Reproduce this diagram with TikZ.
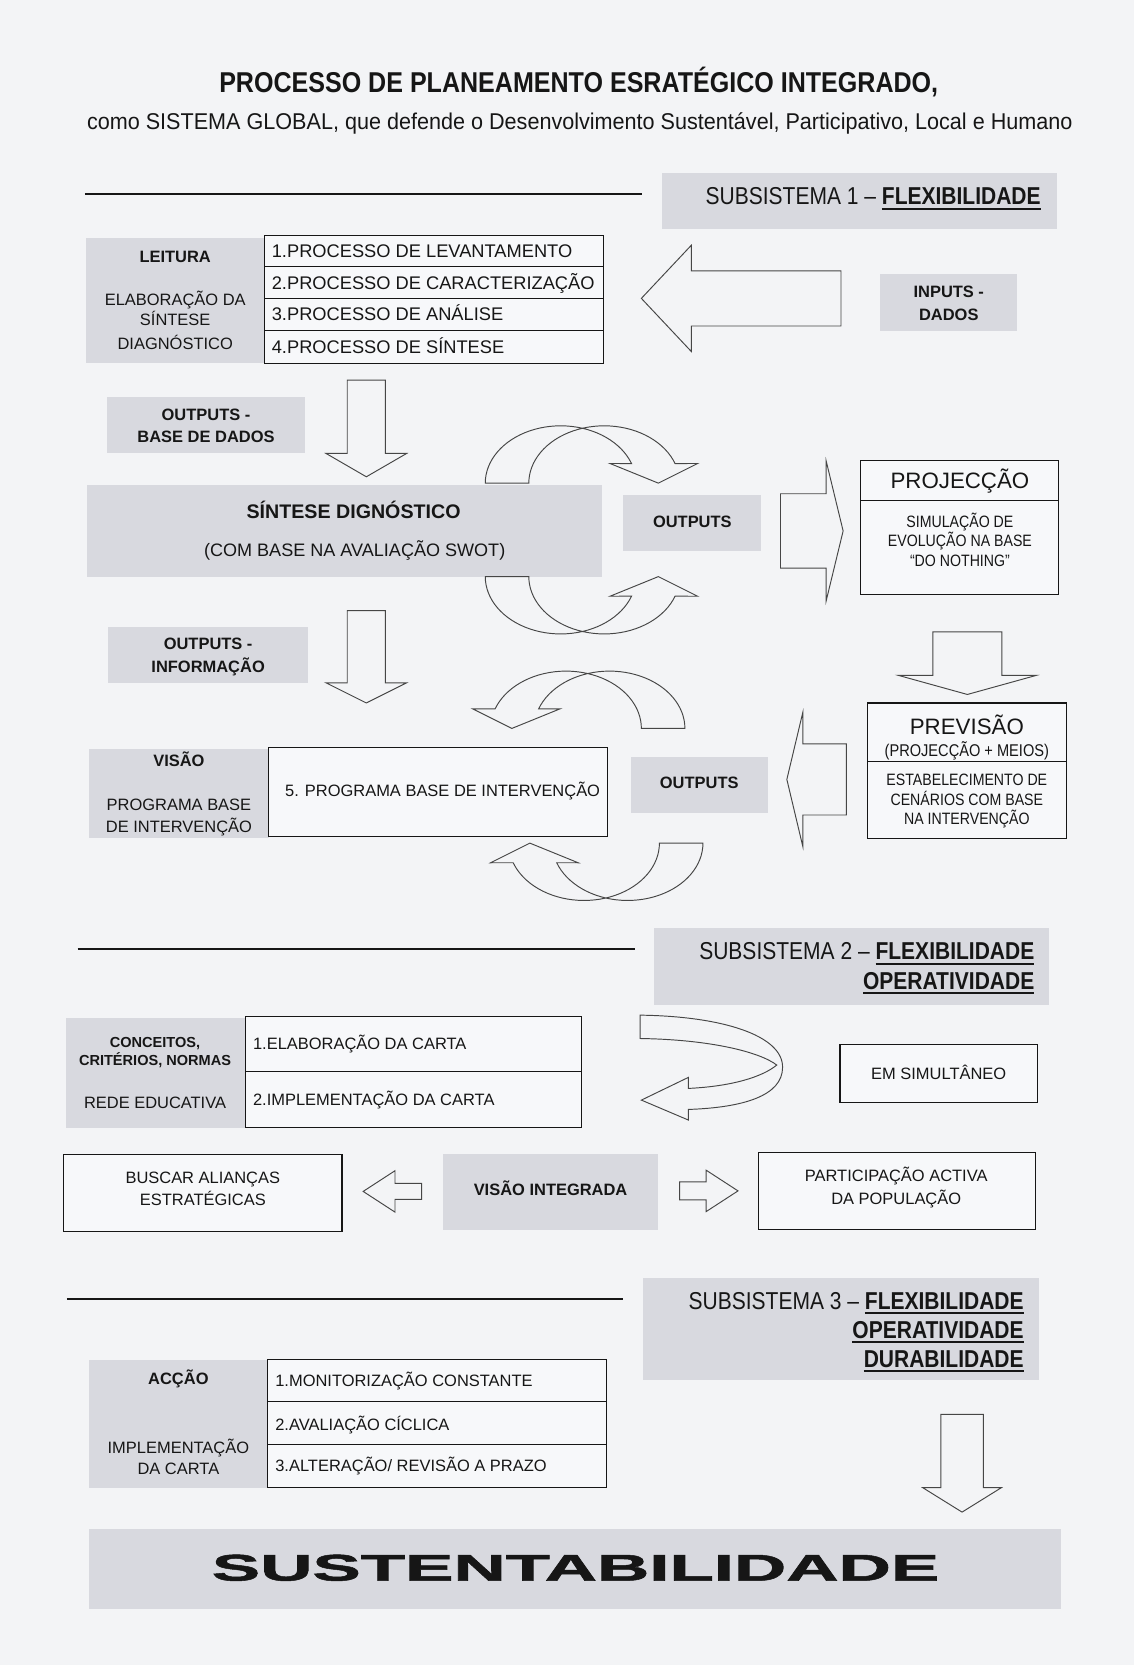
\documentclass[tikz,border=0pt]{standalone}
\usepackage{fontspec}
\usepackage{graphicx}
\setmainfont{Liberation Sans}
\newfontfamily\nsf{Liberation Sans}[FakeStretch=0.86]
\newfontfamily\heavy{Liberation Sans Bold}[FakeBold=1.3]
\definecolor{bgc}{RGB}{243,244,246}
\definecolor{boxg}{RGB}{216,217,223}
\definecolor{wfill}{RGB}{247,248,250}
\definecolor{ink}{RGB}{22,22,22}
\definecolor{arrc}{RGB}{70,70,70}
\newcommand\fs[1]{\fontsize{#1}{#1}\selectfont}
\newcommand\uln[1]{\setbox0\hbox{#1}\leavevmode\rlap{\rule[-4.5pt]{\wd0}{2pt}}\box0}
\tikzset{
  gbox/.style={fill=boxg, draw=none, inner sep=0, outer sep=0},
  wbox/.style={draw=ink, line width=1.1, fill=wfill, inner sep=0, outer sep=0},
  txt/.style={inner sep=0, outer sep=0, text=ink, anchor=base},
  arr/.style={draw=arrc, line width=0.9, line join=miter},
  sepline/.style={draw=ink, line width=2},
  tline/.style={draw=ink, line width=1.1},
}
% rectangle node: name, style, x1, y1, x2, y2
\newcommand\rbox[6]{\node[#2, minimum width={#5-#3}, minimum height={#6-#4}] (#1) at ({(#3+#5)/2},{(#4+#6)/2}) {};}
% down block arrow: cx, top, shaft half, head y, head half, tip y
\newcommand\darr[6]{\draw[arr] ({#1-#3},#2) -- ({#1+#3},#2) -- ({#1+#3},#4) -- ({#1+#5},#4) -- (#1,#6) -- ({#1-#5},#4) -- ({#1-#3},#4) -- cycle;}
% horizontal block arrow: tip x, cy, head back x, head half, shaft half, tail x
\newcommand\harr[6]{\draw[arr] (#1,#2) -- (#3,{#2-#4}) -- (#3,{#2-#5}) -- (#6,{#2-#5}) -- (#6,{#2+#5}) -- (#3,{#2+#5}) -- (#3,{#2+#4}) -- cycle;}
% ribbon curved arrow: tail x, tail y, x dir, y dir
\newcommand\ribbon[4]{\draw[arr] plot[domain=180:340,samples=40] ({#1+(#3)*(71+71*cos(\x))},{#2+(#4)*54*sin(\x)}) -- ({#1+(#3)*117.5},{#2-(#4)*18.5}) -- ({#1+(#3)*163},#2) -- ({#1+(#3)*200},{#2-(#4)*18.5}) -- plot[domain=340:180,samples=40] ({#1+(#3)*(112+71*cos(\x))},{#2+(#4)*54*sin(\x)}) -- cycle;}
\begin{document}
\begin{tikzpicture}[x=1pt,y=-1pt]
\path[use as bounding box, fill=bgc] (0,0) rectangle (1068,1568);

% ---------- title ----------
\node[txt] (title) at (545,87) {\resizebox{677pt}{\height}{\fs{27}\bfseries PROCESSO DE PLANEAMENTO ESRATÉGICO INTEGRADO,}};
\node[txt] (subtitle) at (546,122) {\resizebox{928pt}{\height}{\fs{21.5}como SISTEMA GLOBAL, que defende o Desenvolvimento Sustentável, Participativo, Local e Humano}};

% ---------- subsystem 1 ----------
\draw[sepline] (80,183) -- (605,183);
\rbox{sub1}{gbox}{623}{163}{995}{216}
\node[txt, anchor=base east] (sub1t) at (980,193) {\nsf\fs{23}SUBSISTEMA 1 – \uln{\bfseries FLEXIBILIDADE}};

\rbox{leit}{gbox}{81}{224}{249}{342}
\node[txt] (leit1) at (165,247.3) {\fs{15.5}\bfseries LEITURA};
\node[txt] (leit2) at (165,288) {\fs{15.5}ELABORAÇÃO DA};
\node[txt] (leit3) at (165,307) {\fs{15.5}SÍNTESE};
\node[txt] (leit4) at (165,329) {\fs{15.5}DIAGNÓSTICO};

\rbox{tab1}{wbox}{249}{222}{568}{342}
\draw[tline] (249,251) -- (568,251);
\draw[tline] (249,281) -- (568,281);
\draw[tline] (249,311) -- (568,311);
\node[txt, anchor=base west] (p1) at (256,242.7) {\fs{17.2}1.PROCESSO DE LEVANTAMENTO};
\node[txt, anchor=base west] (p2) at (256,272.2) {\fs{17.2}2.PROCESSO DE CARACTERIZAÇÃO};
\node[txt, anchor=base west] (p3) at (256,302.2) {\fs{17.2}3.PROCESSO DE ANÁLISE};
\node[txt, anchor=base west] (p4) at (256,332.7) {\fs{17.2}4.PROCESSO DE SÍNTESE};

\harr{604}{281}{651}{50}{26}{792}
\rbox{inp}{gbox}{829}{258}{958}{312}
\node[txt] (inp1) at (893.5,280.3) {\fs{15.5}\bfseries INPUTS -};
\node[txt] (inp2) at (893.5,301.6) {\fs{15.5}\bfseries DADOS};

\rbox{obase}{gbox}{101}{374}{287}{427}
\node[txt] (ob1) at (194,396.4) {\fs{15.5}\bfseries OUTPUTS -};
\node[txt] (ob2) at (194,416.9) {\fs{15.5}\bfseries BASE DE DADOS};
\darr{345}{358}{18}{427}{38}{449}

\rbox{swot}{gbox}{82}{457}{567}{543}
\node[txt] (sw1) at (333,488.6) {\fs{18.5}\bfseries SÍNTESE DIGNÓSTICO};
\node[txt] (sw2) at (334,524) {\fs{17}(COM BASE NA AVALIAÇÃO SWOT)};
\ribbon{457}{455}{1}{1}
\ribbon{457}{543}{1}{-1}

\rbox{out1}{gbox}{587}{466}{717}{519}
\node[txt] (out1t) at (652,496.6) {\fs{15.5}\bfseries OUTPUTS};
\harr{794}{500}{778}{66}{35}{735}

\rbox{proj}{wbox}{810}{434}{997}{560}
\draw[tline] (810,471) -- (997,471);
\node[txt] (proj1) at (904,460.5) {\fs{21}PROJECÇÃO};
\node[txt] (proj2) at (904,496.9) {\nsf\fs{15.5}SIMULAÇÃO DE};
\node[txt] (proj3) at (904,514.6) {\nsf\fs{15.5}EVOLUÇÃO NA BASE};
\node[txt] (proj4) at (904,533.6) {\nsf\fs{15.5}“DO NOTHING”};

\darr{911}{595}{32.5}{636}{65}{654}

\rbox{prev}{wbox}{817}{662}{1004}{790}
\draw[tline] (817,717) -- (1004,717);
\node[txt] (prev1) at (910.5,692) {\fs{21}PREVISÃO};
\node[txt] (prev2) at (910.5,712) {\nsf\fs{16}(PROJECÇÃO + MEIOS)};
\node[txt] (prev3) at (910.5,739.6) {\nsf\fs{15.5}ESTABELECIMENTO DE};
\node[txt] (prev4) at (910.5,758.4) {\nsf\fs{15.5}CENÁRIOS COM BASE};
\node[txt] (prev5) at (910.5,776.3) {\nsf\fs{15.5}NA INTERVENÇÃO};

\harr{741}{734}{756}{63}{33.5}{797}
\rbox{out2}{gbox}{594}{713}{723}{766}
\node[txt] (out2t) at (658.5,742.6) {\fs{15.5}\bfseries OUTPUTS};

\rbox{oinf}{gbox}{102}{590}{290}{643}
\node[txt] (oi1) at (196,611.5) {\fs{15.5}\bfseries OUTPUTS -};
\node[txt] (oi2) at (196,633.4) {\fs{15.5}\bfseries INFORMAÇÃO};
\darr{345}{575}{18}{643}{38}{662}

\rbox{vis}{gbox}{84}{705}{253}{789}
\node[txt] (vis1) at (168.5,721.6) {\fs{15.5}\bfseries VISÃO};
\node[txt] (vis2) at (168.5,763.6) {\fs{15.5}PROGRAMA BASE};
\node[txt] (vis3) at (168.5,783.6) {\fs{15.5}DE INTERVENÇÃO};
\rbox{prog}{wbox}{253}{704}{572}{788}
\node[txt, anchor=base west] (progt) at (268.5,749.8) {\fs{15.5}5. PROGRAMA BASE DE INTERVENÇÃO};
\ribbon{645}{686}{-1}{1}
\ribbon{662}{794}{-1}{-1}

% ---------- subsystem 2 ----------
\draw[sepline] (73,894) -- (598,894);
\rbox{sub2}{gbox}{616}{874}{988}{946}
\node[txt, anchor=base east] (sub2a) at (974,904) {\nsf\fs{23}SUBSISTEMA 2 – \uln{\bfseries FLEXIBILIDADE}};
\node[txt, anchor=base east] (sub2b) at (974,931.5) {\nsf\fs{23}\uln{\bfseries OPERATIVIDADE}};

\rbox{conc}{gbox}{62}{959}{231}{1062}
\node[txt] (conc1) at (146,986) {\fs{13.7}\bfseries CONCEITOS,};
\node[txt] (conc2) at (146,1003.3) {\fs{13.7}\bfseries CRITÉRIOS, NORMAS};
\node[txt] (conc3) at (146,1044) {\fs{15.5}REDE EDUCATIVA};
\rbox{tab2}{wbox}{231}{957}{548}{1062}
\draw[tline] (231,1009) -- (548,1009);
\node[txt, anchor=base west] (c1) at (238.3,988.2) {\fs{15.5}1.ELABORAÇÃO DA CARTA};
\node[txt, anchor=base west] (c2) at (238.3,1040.9) {\fs{15.5}2.IMPLEMENTAÇÃO DA CARTA};

\draw[arr] (602.8,956) .. controls (680,957) and (737,975) .. (737,1005)
  .. controls (737,1032) and (700,1043) .. (648.3,1044.8)
  -- (648.3,1054.8) -- (604,1036) -- (648.3,1014.6) -- (648.3,1025)
  .. controls (690,1023) and (718,1014) .. (731.5,1003)
  .. controls (716,991) and (670,979) .. (602.8,978) -- cycle;

\rbox{simul}{wbox}{791}{984}{977}{1038}
\node[txt] (simult) at (884,1017) {\fs{15.5}EM SIMULTÂNEO};

\rbox{busc}{wbox}{60}{1087}{322}{1160}
\node[txt] (busc1) at (191,1114.4) {\fs{15.5}BUSCAR ALIANÇAS};
\node[txt] (busc2) at (191,1135.6) {\fs{15.5}ESTRATÉGICAS};
\harr{342}{1122}{372}{19.5}{7.5}{397}
\rbox{visi}{gbox}{417}{1087}{620}{1158}
\node[txt] (visit) at (518.5,1125.6) {\fs{15.5}\bfseries VISÃO INTEGRADA};
\harr{695}{1121.5}{665}{19.5}{8.5}{640}
\rbox{part}{wbox}{714}{1085}{975}{1158}
\node[txt] (part1) at (844,1113) {\fs{15.5}PARTICIPAÇÃO ACTIVA};
\node[txt] (part2) at (844,1134.2) {\fs{15.5}DA POPULAÇÃO};

% ---------- subsystem 3 ----------
\draw[sepline] (63,1223) -- (587,1223);
\rbox{sub3}{gbox}{606}{1204}{978}{1300}
\node[txt, anchor=base east] (sub3a) at (964,1233) {\nsf\fs{23}SUBSISTEMA 3 – \uln{\bfseries FLEXIBILIDADE}};
\node[txt, anchor=base east] (sub3b) at (964,1260.5) {\nsf\fs{23}\uln{\bfseries OPERATIVIDADE}};
\node[txt, anchor=base east] (sub3c) at (964,1288) {\nsf\fs{23}\uln{\bfseries DURABILIDADE}};

\rbox{acc}{gbox}{84}{1281}{252}{1401}
\node[txt] (acc1) at (168,1303.6) {\fs{15.5}\bfseries ACÇÃO};
\node[txt] (acc2) at (168,1368.6) {\fs{15.5}IMPLEMENTAÇÃO};
\node[txt] (acc3) at (168,1388.6) {\fs{15.5}DA CARTA};
\rbox{tab3}{wbox}{252}{1280}{571}{1401}
\draw[tline] (252,1320) -- (571,1320);
\draw[tline] (252,1360) -- (571,1360);
\node[txt, anchor=base west] (m1) at (259.3,1305.6) {\fs{15.5}1.MONITORIZAÇÃO CONSTANTE};
\node[txt, anchor=base west] (m2) at (259.3,1347.6) {\fs{15.5}2.AVALIAÇÃO CÍCLICA};
\node[txt, anchor=base west] (m3) at (259.3,1386.2) {\fs{15.5}3.ALTERAÇÃO/ REVISÃO A PRAZO};

\darr{906}{1332}{20}{1401}{37}{1424}
\rbox{sust}{gbox}{84}{1440}{999}{1515}
\node[txt] (sustt) at (542,1488.5) {\resizebox{685pt}{\height}{\fs{35}\heavy SUSTENTABILIDADE}};
\end{tikzpicture}
\end{document}
